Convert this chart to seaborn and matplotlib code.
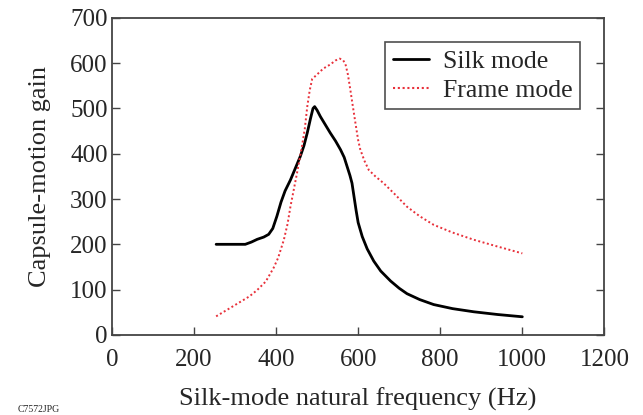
import numpy as np
import pandas as pd
import matplotlib
matplotlib.use("Agg")
import matplotlib.pyplot as plt
import seaborn as sns

silk_freq = [254, 290, 325, 340, 354, 370, 382, 392, 402, 412, 422, 435, 447, 459,
             468, 476, 484, 490, 494, 500, 508, 520, 532, 545, 557, 566, 573, 580,
             585, 590, 595, 600, 610, 622, 638, 655, 679, 700, 719, 750, 784, 830,
             882, 940, 1000]
silk_gain = [200, 200, 200, 205, 211, 216, 222, 235, 262, 293, 318, 342, 368, 394,
             418, 446, 478, 500, 504, 496, 482, 464, 446, 428, 409, 392, 372, 352,
             335, 305, 275, 248, 217, 190, 163, 141, 119, 103, 91, 78, 67, 58,
             51, 45, 40]
frame_freq = [254, 280, 313, 335, 354, 375, 394, 405, 419, 428, 435, 443, 451, 463,
              470, 476, 482, 488, 500, 515, 532, 545, 555, 563, 569, 575, 581, 587,
              593, 600, 605, 615, 626, 642, 662, 690, 719, 750, 784, 830, 882, 940,
              1000]
frame_gain = [41, 55, 73, 85, 99, 118, 148, 170, 210, 245, 283, 320, 357, 416,
              455, 504, 540, 565, 575, 588, 597, 606, 610, 607, 598, 575, 541, 505,
              470, 430, 410, 385, 364, 350, 335, 310, 283, 262, 243, 226, 210, 195,
              180]
series_names = ["Silk mode", "Frame mode"]

df = pd.concat([
    pd.DataFrame({"freq": silk_freq, "gain": silk_gain, "mode": series_names[0]}),
    pd.DataFrame({"freq": frame_freq, "gain": frame_gain, "mode": series_names[1]}),
])

sns.set_theme(style="ticks")
plt.rcParams["font.family"] = ["Liberation Serif", "DejaVu Serif"]

fig = plt.figure(figsize=(6.43, 4.15), dpi=100)
ax = fig.add_axes([0.174, 0.193, 0.766, 0.764])

sns.lineplot(data=df, x="freq", y="gain", hue="mode", style="mode",
             palette={"Silk mode": "black", "Frame mode": "#e8303a"},
             dashes={"Silk mode": "", "Frame mode": (1, 1.3)},
             sort=False, estimator=None, ax=ax)
lines = ax.get_lines()
lines[0].set_linewidth(2.0)
lines[0].set_solid_joinstyle("round")
lines[1].set_linewidth(1.4)

ax.set_xlim(0, 1200)
ax.set_ylim(0, 700)
ax.set_xticks(range(0, 1201, 200))
ax.set_yticks(range(0, 701, 100))
ax.tick_params(direction="in", right=True, length=6, width=1,
               labelsize=18, color="#444444")
ax.tick_params(axis="x", pad=10)
ax.tick_params(axis="y", pad=3)
for s in ax.spines.values():
    s.set_visible(True)
    s.set_color("#444444")
    s.set_linewidth(1.3)
ax.set_xlabel("Silk-mode natural frequency (Hz)", fontsize=19, labelpad=12)
ax.set_ylabel("Capsule-motion gain", fontsize=19, labelpad=14)

leg = ax.legend(title=None, loc="upper right", fontsize=18.5, frameon=True,
                fancybox=False, edgecolor="#222222", handlelength=1.4,
                borderaxespad=0.95, borderpad=0.3, labelspacing=0.22,
                handletextpad=0.55)
leg.get_frame().set_linewidth(1.2)
leg.get_lines()[0].set_linewidth(2)

fig.text(0.028, 0.002, "C7572JPG", fontsize=7, va="bottom", ha="left")

fig.savefig("out.png", dpi=100)
